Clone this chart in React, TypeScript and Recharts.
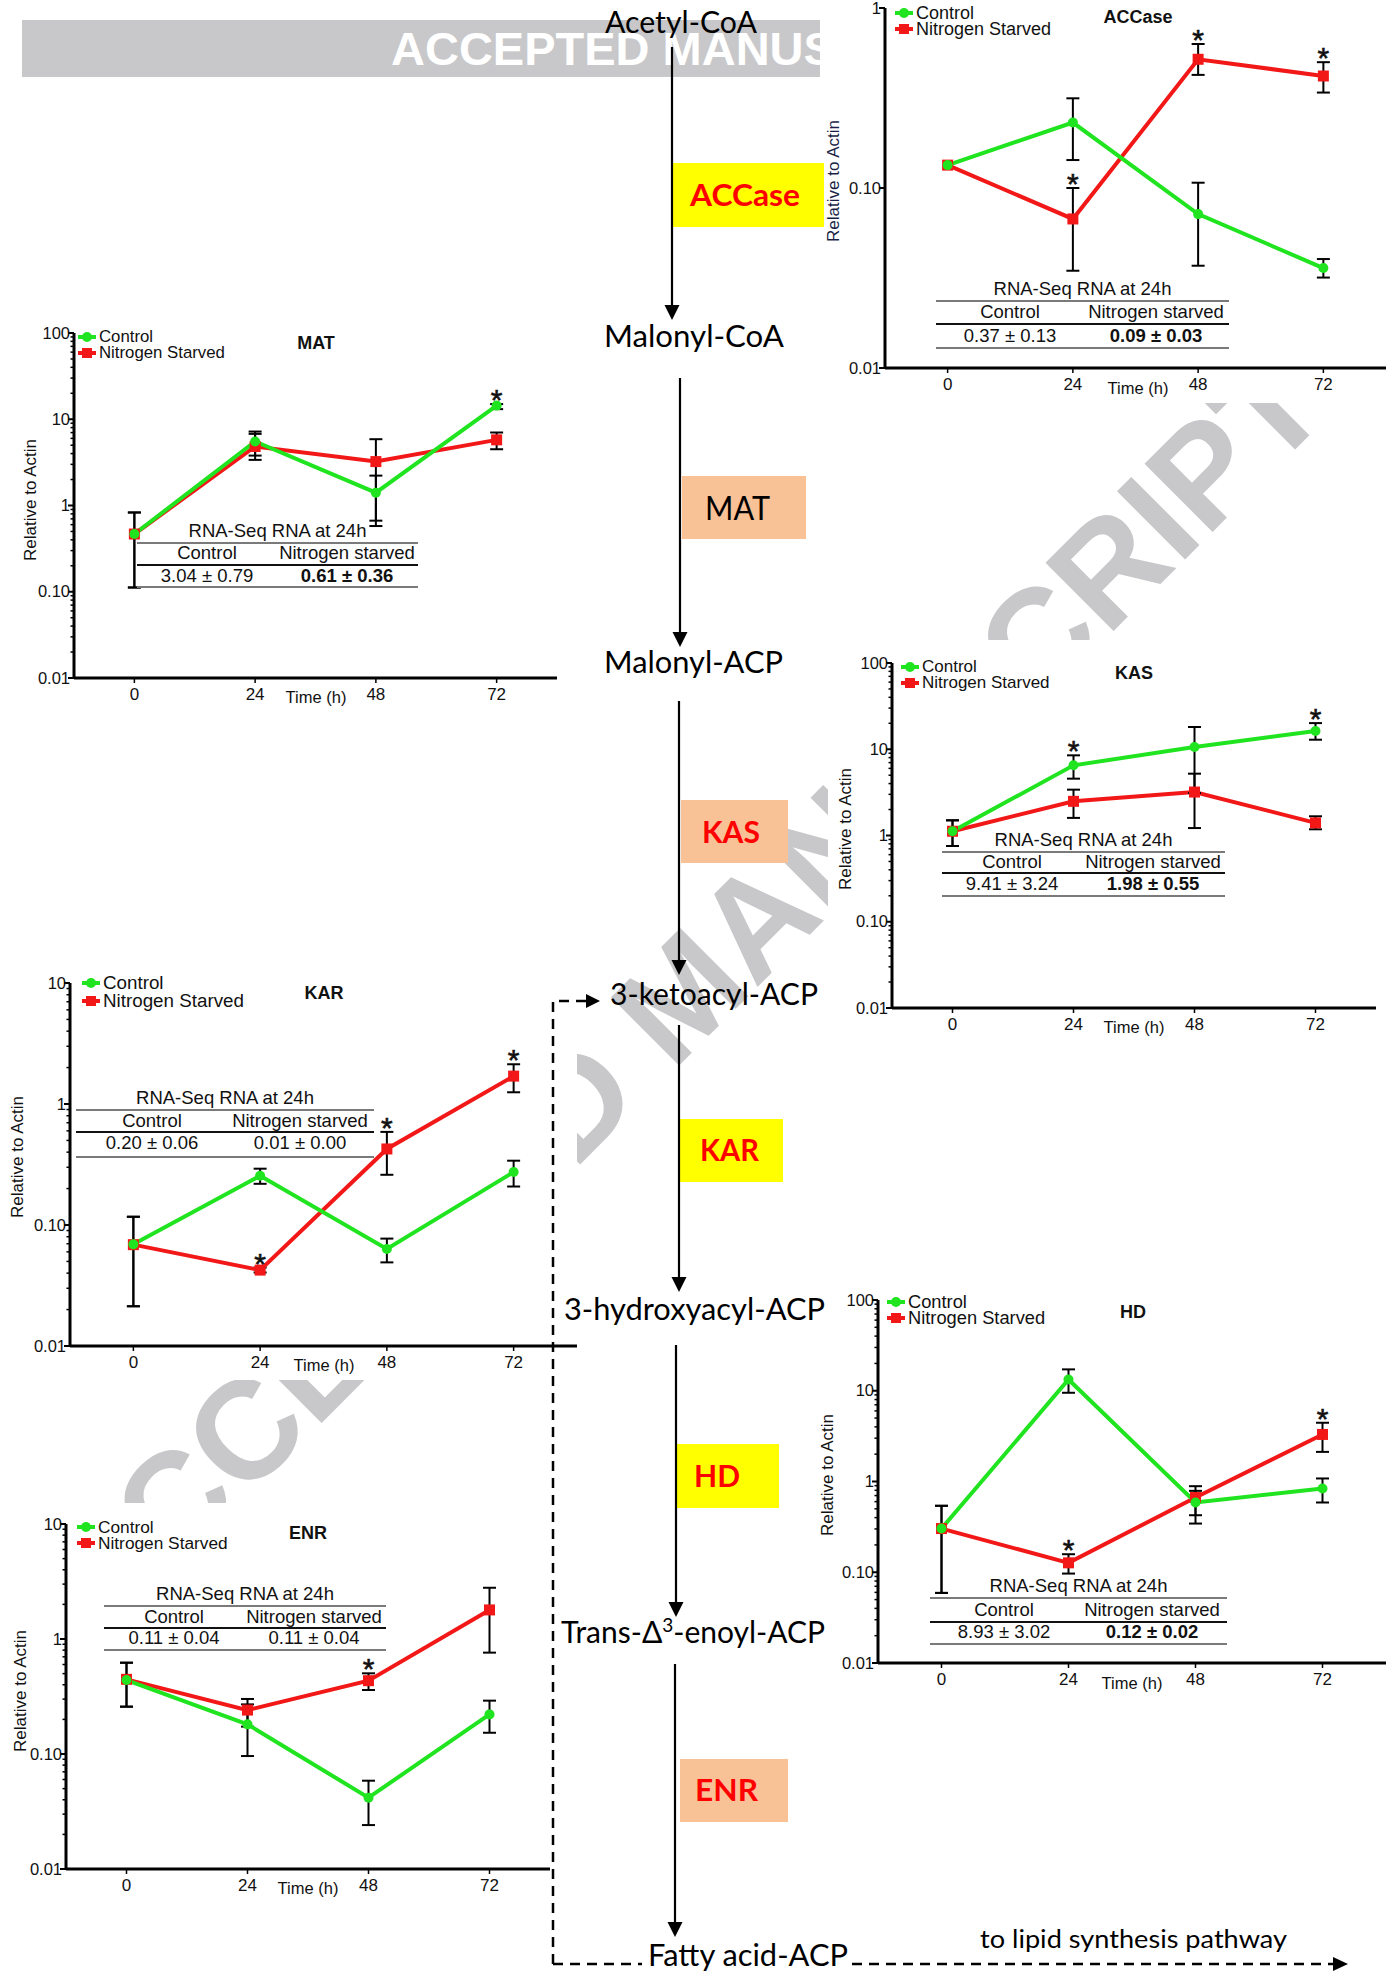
import React from "react";
import { LineChart, Line, XAxis, YAxis, ErrorBar, Legend } from "recharts";

// ---------- values ----------
const timePoints = [0, 24, 48, 72];
const timeDomain = [-12, 84];
const seriesNames = ["Control", "Nitrogen Starved"];
const tableTitle = "RNA-Seq RNA at 24h";
const tableHeaders = ["Control", "Nitrogen starved"];

const minorSteps = [2, 3, 4, 5, 6, 7, 8, 9];
const decadesTo1 = [0.01, 0.1, 1];
const decadesTo10 = [0.01, 0.1, 1, 10];
const decadesTo100 = [0.01, 0.1, 1, 10, 100];
const decadeLabels = ["0.01", "0.10", "1", "10", "100"];

// ACCase
const accaseCtrl = [0.134, 0.231, 0.0716, 0.0359];
const accaseCtrlLo = [0.134, 0.143, 0.037, 0.0318];
const accaseCtrlHi = [0.134, 0.315, 0.107, 0.0403];
const accaseCtrlStars = [false, false, false, false];
const accaseNs = [0.134, 0.0673, 0.519, 0.419];
const accaseNsLo = [0.134, 0.0347, 0.425, 0.339];
const accaseNsHi = [0.134, 0.1, 0.631, 0.5];
const accaseNsStars = [false, true, true, true];
const accaseRnaSeq = ["0.37 ± 0.13", "0.09 ± 0.03"];

// MAT
const matCtrl = [0.467, 5.52, 1.41, 14.4];
const matCtrlLo = [0.112, 3.79, 0.667, 13.1];
const matCtrlHi = [0.83, 7.2, 2.22, 15.0];
const matCtrlStars = [false, false, false, true];
const matNs = [0.467, 4.83, 3.23, 5.77];
const matNsLo = [0.112, 3.38, 0.578, 4.49];
const matNsHi = [0.83, 6.77, 5.87, 7.02];
const matNsStars = [false, false, false, false];
const matRnaSeq = ["3.04 ± 0.79", "0.61 ± 0.36"];

// KAS
const kasCtrl = [1.12, 6.51, 10.6, 16.3];
const kasCtrlLo = [0.755, 4.56, 3.11, 12.9];
const kasCtrlHi = [1.5, 8.5, 18.1, 20.1];
const kasCtrlStars = [false, true, false, true];
const kasNs = [1.12, 2.49, 3.19, 1.4];
const kasNsLo = [0.755, 1.6, 1.22, 1.18];
const kasNsHi = [1.5, 3.4, 5.21, 1.67];
const kasNsStars = [false, false, false, false];
const kasRnaSeq = ["9.41 ± 3.24", "1.98 ± 0.55"];

// KAR
const karCtrl = [0.0692, 0.255, 0.0634, 0.274];
const karCtrlLo = [0.0213, 0.219, 0.0491, 0.208];
const karCtrlHi = [0.117, 0.292, 0.0772, 0.34];
const karCtrlStars = [false, false, false, false];
const karNs = [0.0688, 0.0424, 0.425, 1.7];
const karNsLo = [0.0213, 0.0405, 0.26, 1.25];
const karNsHi = [0.117, 0.0445, 0.588, 2.13];
const karNsStars = [false, true, true, true];
const karRnaSeq = ["0.20 ± 0.06", "0.01 ± 0.00"];

// HD
const hdCtrl = [0.303, 13.3, 0.587, 0.837];
const hdCtrlLo = [0.0592, 9.5, 0.344, 0.587];
const hdCtrlHi = [0.54, 17.2, 0.789, 1.08];
const hdCtrlStars = [false, false, false, false];
const hdNs = [0.303, 0.127, 0.666, 3.3];
const hdNsLo = [0.0592, 0.0967, 0.425, 2.12];
const hdNsHi = [0.54, 0.158, 0.888, 4.44];
const hdNsStars = [false, true, false, true];
const hdRnaSeq = ["8.93 ± 3.02", "0.12 ± 0.02"];

// ENR
const enrCtrl = [0.44, 0.181, 0.0417, 0.221];
const enrCtrlLo = [0.258, 0.096, 0.0241, 0.153];
const enrCtrlHi = [0.622, 0.27, 0.0586, 0.291];
const enrCtrlStars = [false, false, false, false];
const enrNs = [0.446, 0.241, 0.434, 1.79];
const enrNsLo = [0.258, 0.173, 0.36, 0.761];
const enrNsHi = [0.622, 0.301, 0.503, 2.79];
const enrNsStars = [false, false, true, false];
const enrRnaSeq = ["0.11 ± 0.04", "0.11 ± 0.04"];

// pathway text
const pathwaySteps = ["Acetyl-CoA", "Malonyl-CoA", "Malonyl-ACP", "3-ketoacyl-ACP", "3-hydroxyacyl-ACP", "Fatty acid-ACP"];
const enzymeNames = ["ACCase", "MAT", "KAS", "KAR", "HD", "ENR"];

// ---------- styling ----------
const FONT = '"Liberation Sans", Arial, sans-serif';
const PFONT = 'Lato, "Open Sans", sans-serif';
const GREEN = "#1FE41F";
const RED = "#F21818";
const WM = "#C8C8CA";
const YW = 60;
const MT = 10;
const XH = 40;

type TableSpec = {
  x0: number; x1: number; titleY: number; lines: number[];
  headerY: number; valueY: number; cols: number[]; values: string[]; bold: boolean;
};
type PanelSpec = {
  title: string; box: number[]; axisX: number; plotRight: number; yTop: number; yBot: number;
  decades: number[]; minor: boolean;
  ctrl: number[]; ctrlLo: number[]; ctrlHi: number[]; ctrlStars: boolean[];
  ns: number[]; nsLo: number[]; nsHi: number[]; nsStars: boolean[];
  titleAt: number[]; legendAt: number[]; legendFont: number;
  yLabelAt: number[]; yLabelColor: string; timeAt: number[];
  table: TableSpec;
};

const panels: PanelSpec[] = [
  {
    title: "ACCase", box: [828, 0, 558, 403], axisX: 885, plotRight: 1386, yTop: 8, yBot: 368,
    decades: decadesTo1, minor: false,
    ctrl: accaseCtrl, ctrlLo: accaseCtrlLo, ctrlHi: accaseCtrlHi, ctrlStars: accaseCtrlStars,
    ns: accaseNs, nsLo: accaseNsLo, nsHi: accaseNsHi, nsStars: accaseNsStars,
    titleAt: [1138, 17], legendAt: [904, 13, 28], legendFont: 18,
    yLabelAt: [833, 181], yLabelColor: "#1b1f45", timeAt: [1138, 388],
    table: { x0: 936, x1: 1229, titleY: 289, lines: [301, 324, 348], headerY: 312, valueY: 336, cols: [1010, 1156], values: accaseRnaSeq, bold: true },
  },
  {
    title: "MAT", box: [0, 318, 562, 392], axisX: 74, plotRight: 557, yTop: 333, yBot: 678,
    decades: decadesTo100, minor: true,
    ctrl: matCtrl, ctrlLo: matCtrlLo, ctrlHi: matCtrlHi, ctrlStars: matCtrlStars,
    ns: matNs, nsLo: matNsLo, nsHi: matNsHi, nsStars: matNsStars,
    titleAt: [316, 343], legendAt: [87, 337, 353], legendFont: 16.8,
    yLabelAt: [30, 500], yLabelColor: "#111", timeAt: [316, 697],
    table: { x0: 137, x1: 418, titleY: 531, lines: [543, 565, 587], headerY: 553, valueY: 576, cols: [207, 347], values: matRnaSeq, bold: true },
  },
  {
    title: "KAS", box: [828, 640, 558, 400], axisX: 892, plotRight: 1376, yTop: 663, yBot: 1008,
    decades: decadesTo100, minor: true,
    ctrl: kasCtrl, ctrlLo: kasCtrlLo, ctrlHi: kasCtrlHi, ctrlStars: kasCtrlStars,
    ns: kasNs, nsLo: kasNsLo, nsHi: kasNsHi, nsStars: kasNsStars,
    titleAt: [1134, 673], legendAt: [910, 667, 681], legendFont: 17,
    yLabelAt: [845, 829], yLabelColor: "#111", timeAt: [1134, 1027],
    table: { x0: 942, x1: 1225, titleY: 840, lines: [852, 873, 896], headerY: 862, valueY: 884, cols: [1012, 1153], values: kasRnaSeq, bold: true },
  },
  {
    title: "KAR", box: [0, 962, 577, 418], axisX: 70, plotRight: 577, yTop: 983, yBot: 1346,
    decades: decadesTo10, minor: true,
    ctrl: karCtrl, ctrlLo: karCtrlLo, ctrlHi: karCtrlHi, ctrlStars: karCtrlStars,
    ns: karNs, nsLo: karNsLo, nsHi: karNsHi, nsStars: karNsStars,
    titleAt: [324, 993], legendAt: [91, 983, 1001], legendFont: 18.8,
    yLabelAt: [17, 1157], yLabelColor: "#111", timeAt: [324, 1365],
    table: { x0: 76, x1: 374, titleY: 1098, lines: [1110, 1132, 1157], headerY: 1121, valueY: 1143, cols: [152, 300], values: karRnaSeq, bold: false },
  },
  {
    title: "HD", box: [812, 1285, 574, 420], axisX: 878, plotRight: 1386, yTop: 1300, yBot: 1663,
    decades: decadesTo100, minor: true,
    ctrl: hdCtrl, ctrlLo: hdCtrlLo, ctrlHi: hdCtrlHi, ctrlStars: hdCtrlStars,
    ns: hdNs, nsLo: hdNsLo, nsHi: hdNsHi, nsStars: hdNsStars,
    titleAt: [1133, 1312], legendAt: [896, 1302, 1318], legendFont: 18.3,
    yLabelAt: [827, 1475], yLabelColor: "#111", timeAt: [1132, 1683],
    table: { x0: 930, x1: 1227, titleY: 1586, lines: [1598, 1622, 1644], headerY: 1610, valueY: 1632, cols: [1004, 1152], values: hdRnaSeq, bold: true },
  },
  {
    title: "ENR", box: [0, 1503, 556, 471], axisX: 66, plotRight: 550, yTop: 1524, yBot: 1869,
    decades: decadesTo10, minor: true,
    ctrl: enrCtrl, ctrlLo: enrCtrlLo, ctrlHi: enrCtrlHi, ctrlStars: enrCtrlStars,
    ns: enrNs, nsLo: enrNsLo, nsHi: enrNsHi, nsStars: enrNsStars,
    titleAt: [308, 1533], legendAt: [86, 1527, 1543], legendFont: 17.3,
    yLabelAt: [20, 1691], yLabelColor: "#111", timeAt: [308, 1888],
    table: { x0: 104, x1: 386, titleY: 1594, lines: [1606, 1628, 1650], headerY: 1617, valueY: 1638, cols: [174, 314], values: enrRnaSeq, bold: false },
  },
];

function buildTicks(decades: number[], minor: boolean) {
  const out: number[] = [];
  decades.forEach((d, i) => {
    out.push(d);
    if (minor && i < decades.length - 1) minorSteps.forEach((m) => out.push(+(d * m).toPrecision(3)));
  });
  return out;
}

function decadeLabel(v: number) {
  const i = decadesTo100.findIndex((d) => Math.abs(v - d) / d < 1e-6);
  return i >= 0 ? decadeLabels[i] : null;
}

function YTick(props: any) {
  const { y, payload, axisX } = props;
  const label = decadeLabel(payload.value);
  const major = label !== null;
  return (
    <g>
      <line x1={axisX - (major ? 6 : 3.5)} x2={axisX} y1={y} y2={y} stroke="#000" strokeWidth={major ? 2 : 1.5} />
      {major && (
        <text x={axisX - 4} y={y + 5.5} textAnchor="end" fontSize={16.5} fontFamily={FONT} fill="#111">
          {label}
        </text>
      )}
    </g>
  );
}

function XTick(props: any) {
  const { x, payload, axisY } = props;
  return (
    <g>
      <line x1={x} x2={x} y1={axisY} y2={axisY + 5} stroke="#000" strokeWidth={1.5} />
      <text x={x} y={axisY + 22} textAnchor="middle" fontSize={17} fontFamily={FONT} fill="#111">
        {payload.value}
      </text>
    </g>
  );
}

function Swatch({ color, square }: { color: string; square: boolean }) {
  return (
    <svg width={18} height={12} style={{ display: "block", flex: "none" }}>
      <line x1={0} x2={18} y1={6} y2={6} stroke={color} strokeWidth={4} />
      {square ? <rect x={4} y={1} width={10} height={10} fill={color} /> : <circle cx={9} cy={6} r={5} fill={color} />}
    </svg>
  );
}

function LegendBox({ gap, font }: { gap: number; font: number }) {
  const row = (i: number) => (
    <div style={{ display: "flex", alignItems: "center", height: 16, whiteSpace: "nowrap" }}>
      <Swatch color={i === 0 ? GREEN : RED} square={i === 1} />
      <span style={{ marginLeft: 3 }}>{seriesNames[i]}</span>
    </div>
  );
  return (
    <div style={{ fontFamily: FONT, fontSize: font, lineHeight: "16px", color: "#111" }}>
      {row(0)}
      <div style={{ height: gap }} />
      {row(1)}
    </div>
  );
}

function Centered({ x, y, children, style }: any) {
  return (
    <div
      style={{
        position: "absolute", left: x, top: y, transform: "translate(-50%,-50%)",
        whiteSpace: "nowrap", fontFamily: FONT, color: "#111", lineHeight: 1, ...style,
      }}
    >
      {children}
    </div>
  );
}

function InsetTable({ t, bx, by }: { t: TableSpec; bx: number; by: number }) {
  const colors = ["#7a7a7a", "#111", "#7a7a7a"];
  return (
    <>
      <Centered x={(t.x0 + t.x1) / 2 - bx} y={t.titleY - by} style={{ fontSize: 18.5 }}>{tableTitle}</Centered>
      {t.lines.map((ly, i) => (
        <div key={i} style={{ position: "absolute", left: t.x0 - bx, top: ly - by - 1, width: t.x1 - t.x0, borderTop: `2px solid ${colors[i]}` }} />
      ))}
      {tableHeaders.map((h, i) => (
        <Centered key={h} x={t.cols[i] - bx} y={t.headerY - by} style={{ fontSize: 18.5 }}>{h}</Centered>
      ))}
      {t.values.map((v, i) => (
        <Centered key={i} x={t.cols[i] - bx} y={t.valueY - by} style={{ fontSize: 18.5, fontWeight: t.bold && i === 1 ? 700 : 400 }}>{v}</Centered>
      ))}
    </>
  );
}

function Panel({ s }: { s: PanelSpec }) {
  const [bx, by, bw, bh] = s.box;
  const plotH = s.yBot - s.yTop;
  const W = s.plotRight - s.axisX + YW + 2;
  const H = plotH + MT + XH;
  const cl = s.axisX - YW - bx;
  const ct = s.yTop - MT - by;
  const axisY = MT + plotH;
  const rows = timePoints.map((t, i) => ({
    t,
    c: s.ctrl[i],
    n: s.ns[i],
    cErr: s.ctrlLo[i] === s.ctrlHi[i] ? null : [s.ctrl[i] - s.ctrlLo[i], s.ctrlHi[i] - s.ctrl[i]],
    nErr: s.nsLo[i] === s.nsHi[i] ? null : [s.ns[i] - s.nsLo[i], s.nsHi[i] - s.ns[i]],
    cStar: s.ctrlStars[i] ? s.ctrlHi[i] : null,
    nStar: s.nsStars[i] ? s.nsHi[i] : null,
  }));
  const ticks = buildTicks(s.decades, s.minor);
  const gap = Math.max(0, s.legendAt[2] - s.legendAt[1] - 16);

  const greenDot = (p: any) =>
    p.cy == null ? <g key={`g${p.index}`} /> : <circle key={`g${p.index}`} cx={p.cx} cy={p.cy} r={5} fill={GREEN} />;
  const redDot = (p: any) =>
    p.cy == null ? <g key={`r${p.index}`} /> : <rect key={`r${p.index}`} x={p.cx - 5.5} y={p.cy - 5.5} width={11} height={11} fill={RED} />;
  const starDot = (p: any) =>
    p.cy == null || p.value == null ? (
      <g key={`s${p.index}`} />
    ) : (
      <text key={`s${p.index}`} x={p.cx} y={p.cy + 6} textAnchor="middle" fontSize={30} fontFamily={FONT} fill="#111" stroke="#111" strokeWidth={0.6}>
        *
      </text>
    );

  return (
    <div style={{ position: "absolute", left: bx, top: by, width: bw, height: bh, background: "#fff" }}>
      <div style={{ position: "absolute", left: cl, top: ct }}>
        <LineChart width={W} height={H} data={rows} margin={{ top: MT, right: 2, bottom: 0, left: 0 }}>
          <XAxis
            dataKey="t" type="number" domain={timeDomain} ticks={timePoints} height={XH} interval={0}
            axisLine={{ stroke: "#000", strokeWidth: 3 }} tickLine={false}
            tick={(p: any) => { const { key, ...rest } = p; return <XTick key={key} {...rest} axisY={axisY} />; }}
          />
          <YAxis
            type="number" scale="log" domain={[s.decades[0], s.decades[s.decades.length - 1]]} allowDataOverflow
            ticks={ticks} interval={0} width={YW}
            axisLine={{ stroke: "#000", strokeWidth: 3 }} tickLine={false}
            tick={(p: any) => { const { key, ...rest } = p; return <YTick key={key} {...rest} axisX={YW} />; }}
          />
          <Legend
            layout="vertical" align="center" verticalAlign="middle"
            wrapperStyle={{ left: s.legendAt[0] - 9 - bx - cl, top: s.legendAt[1] - 8 - by - ct, width: 220, height: 40 }}
            content={() => <LegendBox gap={gap} font={s.legendFont} />}
          />
          <Line dataKey="n" name={seriesNames[1]} stroke={RED} strokeWidth={4} dot={redDot} activeDot={false} isAnimationActive={false}>
            <ErrorBar dataKey="nErr" direction="y" width={6.5} stroke="#000" strokeWidth={2} />
          </Line>
          <Line dataKey="c" name={seriesNames[0]} stroke={GREEN} strokeWidth={4} dot={greenDot} activeDot={false} isAnimationActive={false}>
            <ErrorBar dataKey="cErr" direction="y" width={6.5} stroke="#000" strokeWidth={2} />
          </Line>
          <Line dataKey="nStar" stroke="none" dot={starDot} activeDot={false} legendType="none" isAnimationActive={false} />
          <Line dataKey="cStar" stroke="none" dot={starDot} activeDot={false} legendType="none" isAnimationActive={false} />
        </LineChart>
      </div>
      <Centered x={s.titleAt[0] - bx} y={s.titleAt[1] - by} style={{ fontSize: 18, fontWeight: 700 }}>{s.title}</Centered>
      <Centered
        x={s.yLabelAt[0] - bx} y={s.yLabelAt[1] - by}
        style={{ fontSize: 17, color: s.yLabelColor, transform: "translate(-50%,-50%) rotate(-90deg)" }}
      >
        Relative to Actin
      </Centered>
      <Centered x={s.timeAt[0] - bx} y={s.timeAt[1] - by} style={{ fontSize: 16.5 }}>Time (h)</Centered>
      <InsetTable t={s.table} bx={bx} by={by} />
    </div>
  );
}

function Arrow({ x, y0, tip }: { x: number; y0: number; tip: number }) {
  return (
    <g>
      <line x1={x} x2={x} y1={y0} y2={tip - 12} stroke="#000" strokeWidth={2.2} />
      <polygon points={`${x},${tip} ${x - 7.5},${tip - 15} ${x + 7.5},${tip - 15}`} fill="#000" />
    </g>
  );
}

function Diagram() {
  const steps = [
    { x: 605, y: 33, len: 152 },
    { x: 604, y: 347, len: 180 },
    { x: 604, y: 673, len: 179 },
    { x: 610, y: 1005, len: 208 },
    { x: 564, y: 1320, len: 261 },
    { x: 648, y: 1966, len: 200 },
  ];
  const boxes = [
    { x: 672, y: 163, w: 152, h: 64, fill: "#FFFF00", color: "#FF0000", bold: true, tx: 690, base: 206, len: 110 },
    { x: 682, y: 476, w: 124, h: 63, fill: "#F9C196", color: "#000", bold: false, tx: 705, base: 520, len: 65 },
    { x: 681, y: 800, w: 107, h: 63, fill: "#F9C196", color: "#FF0000", bold: true, tx: 702, base: 843, len: 58 },
    { x: 680, y: 1119, w: 103, h: 63, fill: "#FFFF00", color: "#FF0000", bold: true, tx: 700, base: 1161, len: 59 },
    { x: 676, y: 1444, w: 103, h: 64, fill: "#FFFF00", color: "#FF0000", bold: true, tx: 694, base: 1487, len: 46 },
    { x: 680, y: 1759, w: 108, h: 63, fill: "#F9C196", color: "#FF0000", bold: true, tx: 695, base: 1801, len: 63 },
  ];
  const arrows = [
    [672, 47, 320], [680, 378, 647], [679, 701, 975], [679, 1025, 1292], [676, 1345, 1617], [675, 1664, 1937],
  ];
  return (
    <svg width={1386} height={1974} style={{ position: "absolute", left: 0, top: 0, pointerEvents: "none" }}>
      {boxes.map((b, i) => (
        <g key={i}>
          <rect x={b.x} y={b.y} width={b.w} height={b.h} fill={b.fill} />
          <text x={b.tx} y={b.base} fontFamily={PFONT} fontSize={b.bold ? 30 : 32} fontWeight={b.bold ? 700 : 400} fill={b.color} textLength={b.len} lengthAdjust="spacingAndGlyphs">
            {enzymeNames[i]}
          </text>
        </g>
      ))}
      {arrows.map((a, i) => <Arrow key={i} x={a[0]} y0={a[1]} tip={a[2]} />)}
      {steps.map((s, i) => (
        <text key={i} x={s.x} y={s.y} fontFamily={PFONT} fontSize={30} fill="#000" textLength={s.len} lengthAdjust="spacingAndGlyphs">
          {pathwaySteps[i]}
        </text>
      ))}
      <text x={561} y={1643} fontFamily={PFONT} fontSize={30} fill="#000">
        Trans-Δ
        <tspan dy={-11} fontSize={19}>3</tspan>
        <tspan dy={11}>-enoyl-ACP</tspan>
      </text>
      <text x={980} y={1948} fontFamily={PFONT} fontSize={25} fill="#000" textLength={307} lengthAdjust="spacingAndGlyphs">to lipid synthesis pathway</text>
      <g stroke="#000" strokeWidth={2.5} strokeDasharray="10 7" fill="none">
        <path d="M553 1964 V1001 H588" />
        <path d="M553 1964 H642" />
        <path d="M852 1964 H1333" />
      </g>
      <polygon points="600,1001 586,994 586,1008" fill="#000" />
      <polygon points="1348,1964 1333,1957 1333,1971" fill="#000" />
    </svg>
  );
}

function Backdrop() {
  return (
    <svg width={1386} height={1974} style={{ position: "absolute", left: 0, top: 0 }}>
      <defs>
        <clipPath id="banner-clip">
          <rect x={22} y={20} width={798} height={57} />
        </clipPath>
      </defs>
      <rect x={22} y={20} width={798} height={57} fill={WM} />
      <text x={391} y={65} clipPath="url(#banner-clip)" fontFamily={FONT} fontWeight={700} fontSize={47} fill="#fff">
        ACCEPTED MANUSCRIPT
      </text>
      <text transform="translate(100.5,1644) rotate(-45)" fontFamily={FONT} fontWeight={700} fontSize={140} fill={WM}>
        ACCEPTED MANUSCRIPT
      </text>
    </svg>
  );
}

export default function App() {
  return (
    <div style={{ position: "absolute", left: 0, top: 0, width: 1386, height: 1974, background: "#fff", overflow: "hidden" }}>
      <Backdrop />
      {panels.map((p) => <Panel key={p.title} s={p} />)}
      <Diagram />
    </div>
  );
}
